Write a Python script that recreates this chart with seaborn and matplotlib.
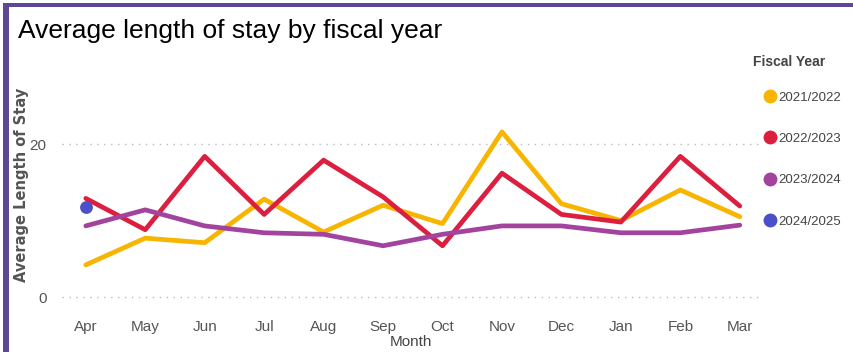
import matplotlib
matplotlib.use("Agg")
import matplotlib.pyplot as plt
from matplotlib.lines import Line2D
from matplotlib.patches import Rectangle
import seaborn as sns
import pandas as pd

months = ["Apr", "May", "Jun", "Jul", "Aug", "Sep", "Oct", "Nov", "Dec", "Jan", "Feb", "Mar"]
fy_2021_2022 = [4.2, 7.7, 7.1, 12.8, 8.5, 12.0, 9.6, 21.6, 12.2, 10.0, 14.0, 10.5]
fy_2022_2023 = [12.9, 8.8, 18.4, 10.8, 17.9, 13.1, 6.7, 16.2, 10.8, 9.8, 18.4, 11.9]
fy_2023_2024 = [9.3, 11.4, 9.3, 8.4, 8.2, 6.7, 8.2, 9.3, 9.3, 8.4, 8.4, 9.4]
fy_2024_2025 = [11.8]
years = ["2021/2022", "2022/2023", "2023/2024", "2024/2025"]
colors = ["#F7B500", "#DC1F3F", "#A2449E", "#4B4FC8"]
y_ticks = [0, 20]

rows = []
for yr, vals in zip(years, [fy_2021_2022, fy_2022_2023, fy_2023_2024, fy_2024_2025]):
    for i, v in enumerate(vals):
        rows.append({"Month": i, "Average Length of Stay": v, "Fiscal Year": yr})
df = pd.DataFrame(rows)

sns.set_theme(style="white")
fam = ["Liberation Sans", "DejaVu Sans"]
plt.rcParams["font.family"] = fam

fig = plt.figure(figsize=(8.54, 3.52), dpi=100)
W, H = 854, 352
left, right, top, bottom = 62, 760, 60, 310
ax = fig.add_axes([left / W, 1 - bottom / H, (right - left) / W, (bottom - top) / H])

palette = dict(zip(years, colors))
line_df = df[df["Fiscal Year"] != "2024/2025"]
sns.lineplot(data=line_df, x="Month", y="Average Length of Stay", hue="Fiscal Year",
             palette=palette, linewidth=3.4, ax=ax, legend=False, sort=False)
sns.scatterplot(data=df[df["Fiscal Year"] == "2024/2025"], x="Month", y="Average Length of Stay",
                hue="Fiscal Year", palette=palette, s=85, linewidth=0, ax=ax, legend=False, zorder=5)

ax.set_xlim(-0.40, 11.34)
ax.set_ylim(-1.7, 31.0)
ax.set_xticks(range(len(months)))
ax.set_xticklabels(months, fontsize=11, color="#555555")
ax.set_yticks(y_ticks)
ax.set_yticklabels([str(t) for t in y_ticks], fontsize=11, color="#555555")
ax.tick_params(axis="both", length=0)
ax.tick_params(axis="y", pad=11)
ax.tick_params(axis="x", pad=7)
for t in y_ticks:
    ax.axhline(t, color="#BBBBBB", linewidth=1.0, linestyle=(0, (1, 4)), zorder=0)
for s in ax.spines.values():
    s.set_visible(False)
ax.set_xlabel("Month", fontsize=11, color="#444444", labelpad=1)
ax.set_ylabel("Average Length of Stay", fontsize=10.5, color="#555555", fontweight="bold",
              family=["DejaVu Sans"])
ax.yaxis.set_label_coords((29 - left) / (right - left), 0.5)

fig.text(18 / W, 1 - 31 / H, "Average length of stay by fiscal year", fontsize=19,
         color="black", va="center", ha="left")

fig.text(753 / W, 1 - 62 / H, "Fiscal Year", fontsize=10, fontweight="bold",
         color="#444444", va="center", ha="left")

handles = [Line2D([0], [0], marker="o", linestyle="", markersize=10, markerfacecolor=c,
                  markeredgewidth=0) for c in colors]
leg = fig.legend(handles, years, loc="upper left", bbox_to_anchor=(755 / W, 1 - 85 / H),
                 frameon=False, fontsize=9.5, labelspacing=2.2, handletextpad=0.0,
                 handlelength=1.3, borderpad=0)
for t in leg.get_texts():
    t.set_color("#444444")

border = "#5E4893"
fig.add_artist(Rectangle((3 / W, 0), 6 / W, 1 - 3 / H, transform=fig.transFigure,
                         facecolor=border, edgecolor="none"))
fig.add_artist(Rectangle((3 / W, 1 - 7 / H), 1, 4 / H, transform=fig.transFigure,
                         facecolor=border, edgecolor="none"))

fig.savefig("out.png", dpi=100)
